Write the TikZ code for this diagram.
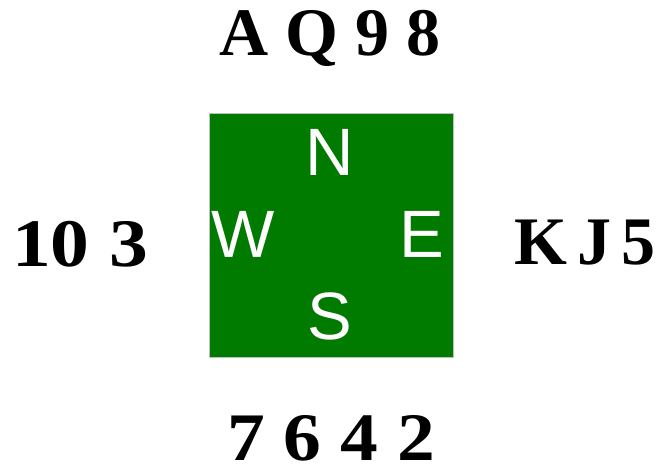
\documentclass[tikz,border=0pt]{standalone}
\usepackage{fontspec}
\setmainfont{Liberation Serif}
\newfontfamily\dirfont{Liberation Sans}
\definecolor{tablegreen}{RGB}{0,123,0}
\definecolor{edgegray}{RGB}{190,190,190}
\begin{document}
\begin{tikzpicture}[x=1pt,y=-1pt,
  hand/.style={inner sep=0pt,anchor=base,font=\fontsize{68}{68}\selectfont\bfseries},
  dir/.style={inner sep=0pt,anchor=base,text=white,font=\fontsize{67}{67}\selectfont\dirfont}]
\useasboundingbox (0,0) rectangle (657,471);
\node[draw=edgegray,line width=0.8pt,fill=tablegreen,minimum width=244pt,minimum height=244pt,inner sep=0pt] (table) at (331,235) {};
\node[hand] (north) at (330,55) {A Q 9 8};
\node[hand,transform shape,xscale=1.14] (west) at (80,266) {10 3};
\node[hand] (east) at (585,264) {K\hspace{10pt}J\hspace{10pt}5};
\node[hand,transform shape,xscale=1.11] (south) at (331,460) {7 6 4 2};
\node[dir] (n) at (330,175) {N};
\node[dir] (w) at (243,257) {W};
\node[dir] (e) at (422,257) {E};
\node[dir] (s) at (330,339) {S};
\end{tikzpicture}
\end{document}
